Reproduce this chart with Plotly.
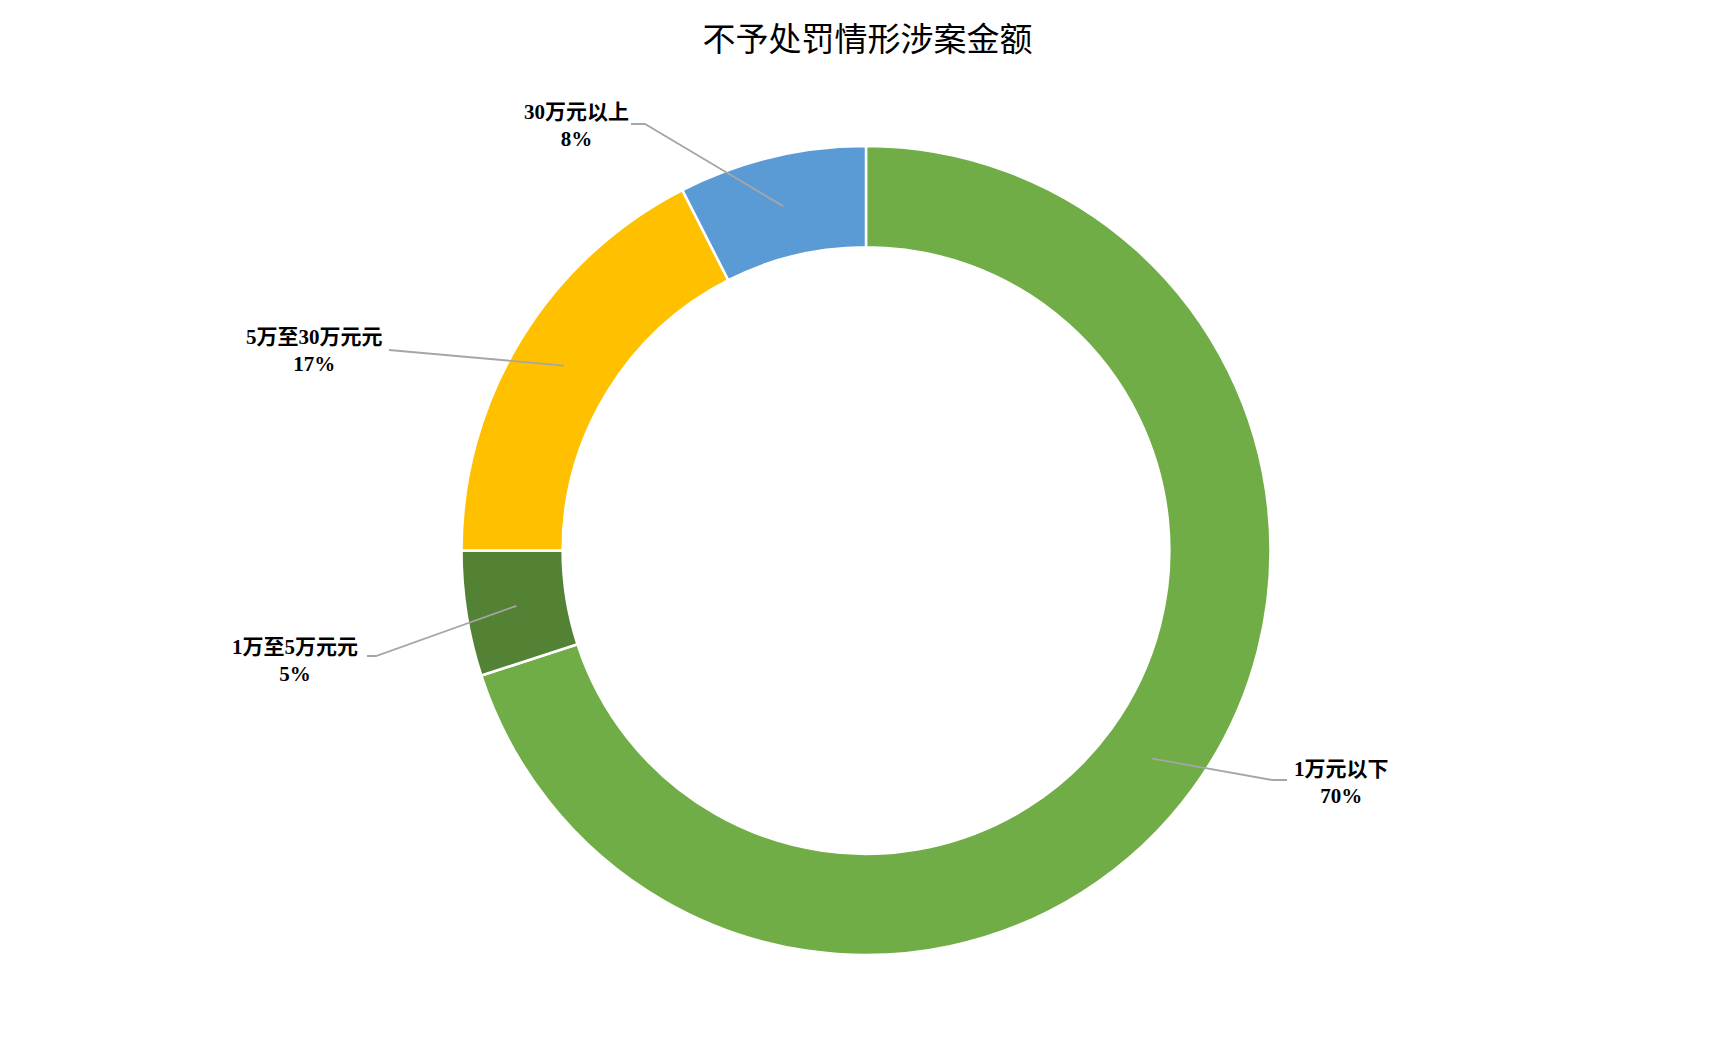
import math
import plotly.graph_objects as go

# ---- data ----
categories = ["1万元以下", "1万至5万元元", "5万至30万元元", "30万元以上"]
values = [70.0, 5.0, 17.5, 7.5]   # slice sizes
pct_labels = ["70%", "5%", "17%", "8%"]  # labels as printed on the chart
colors = ["#70AD47", "#548235", "#FFC000", "#5B9BD5"]

# ---- layout ----
W, H = 1735, 1041
ML, MR, MT, MB = 0, 3, 146, 86
HOLE = 0.75
FONT = "Liberation Serif, 'Times New Roman', 'Noto Sans CJK SC', serif"

# label placement (pixels): text centre, leader polyline points near the label
label_text_px = [(1341, 782), (295, 660), (314, 350), (576, 126)]
label_leader_px = [
    [(1287, 780), (1272, 780)],
    [(367, 656), (376, 656)],
    [(389, 350)],
    [(631, 124), (645, 124)],
]

pw, ph = W - ML - MR, H - MT - MB
cx, cy = ML + pw / 2, MT + ph / 2
R = min(pw, ph) / 2
r_mid = R * (1 + HOLE) / 2


def to_paper(px, py):
    return (px - ML) / pw, 1 - (py - MT) / ph


fig = go.Figure(go.Pie(
    labels=categories,
    values=values,
    hole=HOLE,
    sort=False,
    direction="clockwise",
    rotation=0,
    textinfo="none",
    marker=dict(colors=colors, line=dict(color="white", width=2.5)),
    domain=dict(x=[0, 1], y=[0, 1]),
    showlegend=False,
    hoverinfo="label",
))

total = sum(values)
cum = 0
shapes, annotations = [], []
for i, v in enumerate(values):
    mid = (cum + v / 2) / total * 2 * math.pi
    cum += v
    ax = cx + r_mid * math.sin(mid)
    ay = cy - r_mid * math.cos(mid)
    pts = label_leader_px[i] + [(ax, ay)]
    path = ""
    for j, (px, py) in enumerate(pts):
        xp, yp = to_paper(px, py)
        path += ("M" if j == 0 else " L") + f" {xp:.5f},{yp:.5f}"
    shapes.append(dict(type="path", xref="paper", yref="paper", path=path,
                       line=dict(color="#A6A6A6", width=1.8)))
    tx, ty = to_paper(*label_text_px[i])
    annotations.append(dict(
        x=tx, y=ty, xref="paper", yref="paper", showarrow=False,
        text=f"<b>{categories[i]}</b><br><b>{pct_labels[i]}</b>",
        align="center", xanchor="center", yanchor="middle",
        font=dict(family=FONT, size=21, color="#000000"),
    ))

fig.update_layout(
    width=W, height=H,
    margin=dict(l=ML, r=MR, t=MT, b=MB, pad=0),
    paper_bgcolor="white", plot_bgcolor="white",
    title=dict(text="不予处罚情形涉案金额", x=0.5, xanchor="center",
               y=1 - 39 / H, yanchor="middle", yref="container",
               font=dict(family=FONT, size=33, color="#000000")),
    shapes=shapes,
    annotations=annotations,
)

fig.write_html("out.html", config={"displayModeBar": False},
               post_script="document.body.style.margin='0';")
